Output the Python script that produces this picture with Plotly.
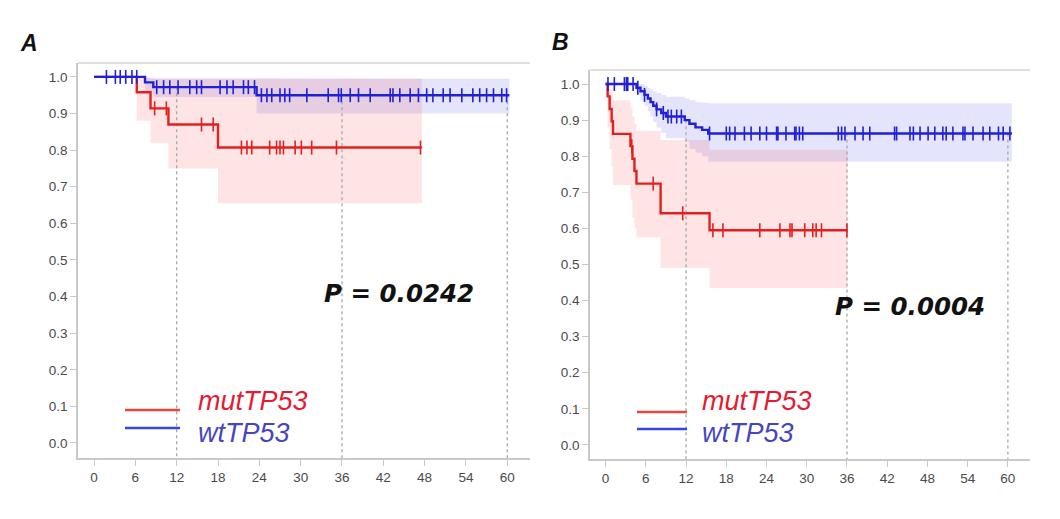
import plotly.graph_objects as go

# ---------------- data ----------------
months_ticks = [0, 6, 12, 18, 24, 30, 36, 42, 48, 54, 60]
surv_ticks = [0.0, 0.1, 0.2, 0.3, 0.4, 0.5, 0.6, 0.7, 0.8, 0.9, 1.0]
landmarks = [12, 36, 60]
legend_names = ["mutTP53", "wtTP53"]
panel_labels = ["A", "B"]
p_values = ["P = 0.0242", "P = 0.0004"]

# Panel A  - mutTP53
a_mut_t = [0, 6.2, 8.2, 10.8, 18.0]
a_mut_s = [1.0, 0.958, 0.914, 0.870, 0.807]
a_mut_lo = [1.0, 0.88, 0.82, 0.75, 0.655]
a_mut_hi = [1.0, 0.998, 0.996, 0.995, 0.995]
a_mut_end = 47.6
a_mut_cens = [8.8, 10.5, 15.6, 17.3, 21.4, 22.2, 22.9, 25.5, 26.5, 27.0, 27.5, 29.2, 30.1, 31.6, 35.2, 47.4]
# Panel A  - wtTP53
a_wt_t = [0, 7.4, 8.6, 23.6]
a_wt_s = [1.0, 0.985, 0.972, 0.950]
a_wt_lo = [1.0, 0.96, 0.945, 0.90]
a_wt_hi = [1.0, 0.998, 0.996, 0.995]
a_wt_end = 60.3
a_wt_cens = [1.8, 3.1, 3.8, 4.6, 5.5, 6.2, 9.1, 10.1, 11.0, 12.2, 13.9, 14.9, 15.6, 18.3, 19.3,
             20.2, 21.7, 22.4, 23.3, 24.3, 25.1, 25.8, 27.0, 27.7, 28.4, 30.9, 34.0, 35.5, 35.9,
             37.2, 38.4, 40.1, 43.0, 43.4, 44.4, 45.9, 47.1, 48.3, 49.2, 50.7, 51.7, 53.4, 55.0,
             56.0, 57.0, 58.0, 59.2, 59.9]

# Panel B  - mutTP53
b_mut_t = [0, 0.3, 0.6, 0.9, 1.1, 3.7, 4.0, 4.3, 4.6, 8.2, 15.5]
b_mut_s = [1.0, 0.966, 0.931, 0.897, 0.862, 0.828, 0.793, 0.759, 0.724, 0.642, 0.595]
b_mut_lo = [1.0, 0.88, 0.82, 0.77, 0.72, 0.68, 0.63, 0.60, 0.575, 0.49, 0.435]
b_mut_hi = [1.0, 0.995, 0.985, 0.97, 0.955, 0.935, 0.91, 0.89, 0.87, 0.845, 0.818]
b_mut_end = 36.1
b_mut_cens = [3.9, 7.1, 11.5, 16.0, 17.5, 23.0, 26.0, 27.5, 27.8, 29.7, 30.9, 31.4, 32.2, 36.0]
# Panel B  - wtTP53
b_wt_t = [0, 4.6, 5.2, 5.8, 6.3, 6.7, 7.1, 7.6, 8.3, 9.0, 11.8, 12.5, 13.4, 14.4, 15.3]
b_wt_s = [1.0, 0.99, 0.98, 0.97, 0.96, 0.95, 0.94, 0.93, 0.92, 0.91, 0.90, 0.89, 0.88, 0.873, 0.863]
b_wt_lo = [1.0, 0.97, 0.955, 0.94, 0.925, 0.91, 0.895, 0.88, 0.865, 0.85, 0.84, 0.82, 0.81, 0.80, 0.785]
b_wt_hi = [1.0, 1.0, 1.0, 0.995, 0.99, 0.985, 0.98, 0.975, 0.97, 0.965, 0.96, 0.955, 0.95, 0.948, 0.947]
b_wt_end = 60.6
b_wt_cens = [0.35, 1.3, 2.8, 3.1, 3.3, 4.1, 4.8, 5.8, 7.6, 8.6, 9.3, 9.8, 10.6, 11.3,
             15.5, 18.0, 18.5, 19.3, 20.7, 21.7, 23.0, 24.0, 25.5, 25.7, 26.9, 28.2, 28.4,
             28.9, 29.4, 34.7, 35.2, 35.7, 37.2, 38.4, 39.4, 43.1, 43.4, 45.4, 45.9, 46.9,
             48.1, 49.1, 50.3, 50.8, 51.8, 53.3, 53.6, 54.8, 56.3, 57.3, 58.6, 59.3, 60.3]

# ---------------- styles ----------------
RED = "rgb(228,32,30)"
BLUE = "rgb(32,32,215)"
RED_FILL = "rgba(250,90,90,0.16)"
BLUE_FILL = "rgba(90,90,240,0.16)"
AX = "#c9c9c9"
TICKFONT = dict(family="Liberation Sans, Arial", size=13.5, color="#4a4a4a")
XR = [-2.33, 63.3]


def step_path(t, s, end):
    xs, ys = [], []
    for i in range(len(t)):
        x1 = t[i + 1] if i + 1 < len(t) else end
        xs += [t[i], x1]
        ys += [s[i], s[i]]
    return xs, ys


def step_at(t, s, x):
    v = s[0]
    for ti, si in zip(t, s):
        if ti <= x:
            v = si
    return v


fig = go.Figure()

panels = [
    dict(xa="x", ya="y",
         mut=(a_mut_t, a_mut_s, a_mut_lo, a_mut_hi, a_mut_end, a_mut_cens),
         wt=(a_wt_t, a_wt_s, a_wt_lo, a_wt_hi, a_wt_end, a_wt_cens),
         ymin=-0.041),
    dict(xa="x2", ya="y2",
         mut=(b_mut_t, b_mut_s, b_mut_lo, b_mut_hi, b_mut_end, b_mut_cens),
         wt=(b_wt_t, b_wt_s, b_wt_lo, b_wt_hi, b_wt_end, b_wt_cens),
         ymin=-0.039),
]

for p in panels:
    # confidence bands
    for key, fillc in (("wt", BLUE_FILL), ("mut", RED_FILL)):
        t, s, lo, hi, end, cens = p[key]
        ux, uy = step_path(t, hi, end)
        lx, ly = step_path(t, lo, end)
        fig.add_trace(go.Scatter(x=ux + lx[::-1], y=uy + ly[::-1], fill="toself",
                                 fillcolor=fillc, line=dict(width=0), mode="lines",
                                 hoverinfo="skip", showlegend=False,
                                 xaxis=p["xa"], yaxis=p["ya"]))
    # landmark dotted lines
    wt = p["wt"]
    dx, dy = [], []
    for m in landmarks:
        dx += [m, m, None]
        dy += [step_at(wt[0], wt[1], m), p["ymin"], None]
    fig.add_trace(go.Scatter(x=dx, y=dy, mode="lines",
                             line=dict(color="#a8a8a8", width=1.3, dash="dot"),
                             hoverinfo="skip", showlegend=False,
                             xaxis=p["xa"], yaxis=p["ya"]))
    # curves + censor marks
    for key, col in (("mut", RED), ("wt", BLUE)):
        t, s, lo, hi, end, cens = p[key]
        cx, cy = step_path(t, s, end)
        fig.add_trace(go.Scatter(x=cx, y=cy, mode="lines", line=dict(color=col, width=2.4),
                                 showlegend=False, xaxis=p["xa"], yaxis=p["ya"]))
        fig.add_trace(go.Scatter(x=cens, y=[step_at(t, s, c) for c in cens], mode="markers",
                                 marker=dict(symbol="line-ns-open", size=10, color=col,
                                             line=dict(color=col, width=1.6)),
                                 showlegend=False, xaxis=p["xa"], yaxis=p["ya"]))

W, H = 1060, 519


def px(x):
    return x / W


def py(y):
    return 1 - y / H


axis_common = dict(showgrid=False, zeroline=False, showline=True, linecolor=AX, linewidth=1.6,
                   ticks="outside", tickcolor=AX, ticklen=6, tickwidth=1.2, tickfont=TICKFONT)

fig.update_layout(
    width=W, height=H, margin=dict(l=0, r=0, t=0, b=0),
    paper_bgcolor="white", plot_bgcolor="white", showlegend=False,
    xaxis=dict(domain=[px(78), px(530)], range=XR, tickvals=months_ticks, anchor="y", **axis_common),
    yaxis=dict(domain=[py(458), py(63)], range=[-0.041, 1.038], tickvals=surv_ticks,
               tickformat=".1f", anchor="x", **axis_common),
    xaxis2=dict(domain=[px(590), px(1030)], range=XR, tickvals=months_ticks, anchor="y2", **axis_common),
    yaxis2=dict(domain=[py(459), py(70)], range=[-0.039, 1.039], tickvals=surv_ticks,
                tickformat=".1f", anchor="x2", **axis_common),
)

# top frame lines
for xr, yr in (("x domain", "y domain"), ("x2 domain", "y2 domain")):
    fig.add_shape(type="line", xref=xr, yref=yr, x0=0, x1=1, y0=1, y1=1,
                  line=dict(color="#d4d4d4", width=1.6))

annots = []
# panel labels
for lab, (x, y) in zip(panel_labels, [(29, 43), (560, 42)]):
    annots.append(dict(text=f"<b><i>{lab}</i></b>", x=px(x), y=py(y), xref="paper", yref="paper",
                       showarrow=False, xanchor="center", yanchor="middle",
                       font=dict(family="Liberation Sans, Arial", size=23, color="#111111")))
# p-values
for txt, (x, y) in zip(p_values, [(399, 293), (910, 307)]):
    annots.append(dict(text=f"<b><i>{txt}</i></b>", x=px(x), y=py(y), xref="paper", yref="paper",
                       showarrow=False, xanchor="center", yanchor="middle",
                       font=dict(family="DejaVu Sans", size=24.5, color="#111111")))
# legends
leg_pos = [dict(x0=125, x1=180, xt=196, ys=(410, 428), yt=(401, 433)),
           dict(x0=637, x1=687, xt=700, ys=(412, 429), yt=(401, 433))]
leg_line_cols = ["rgb(232,70,60)", "rgb(50,70,225)"]
leg_txt_cols = ["rgb(228,28,50)", "rgb(70,70,190)"]
for lp in leg_pos:
    for i, name in enumerate(legend_names):
        fig.add_shape(type="line", xref="paper", yref="paper", x0=px(lp["x0"]), x1=px(lp["x1"]),
                      y0=py(lp["ys"][i]), y1=py(lp["ys"][i]),
                      line=dict(color=leg_line_cols[i], width=2.6))
        annots.append(dict(text=f"<i>{name}</i>", x=px(lp["xt"]), y=py(lp["yt"][i]),
                           xref="paper", yref="paper", showarrow=False,
                           xanchor="left", yanchor="middle",
                           font=dict(family="Liberation Sans, Arial", size=27,
                                     color=leg_txt_cols[i])))
fig.update_layout(annotations=annots)

fig.write_html("out.html", config={"displayModeBar": False},
               post_script="document.body.style.margin='0';")
